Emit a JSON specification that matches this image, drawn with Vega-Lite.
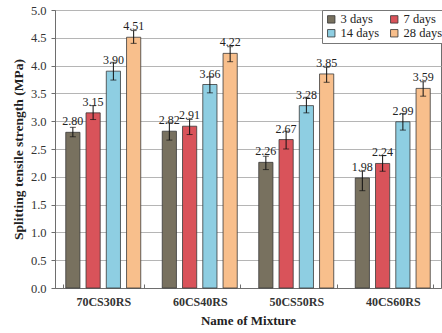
{
  "$schema": "https://vega.github.io/schema/vega-lite/v6.json",
  "autosize": "none",
  "width": 386,
  "height": 278,
  "padding": {"left": 55, "top": 10, "right": 1, "bottom": 45},
  "background": "white",
  "config": {
    "font": "Liberation Serif",
    "view": {"stroke": "#6e6e6e", "strokeWidth": 1},
    "axis": {"labelColor": "#333", "titleColor": "#222", "domainColor": "#6e6e6e", "tickColor": "#6e6e6e"},
    "axisY": {
      "grid": true,
      "gridColor": "#b5b5b5",
      "tickSize": 4,
      "labelPadding": 5,
      "labelFontSize": 12.5,
      "titleFontWeight": "bold",
      "titleFontSize": 13.5,
      "titlePadding": 5
    }
  },
  "data": {
    "values": [
      {"mixture": "70CS30RS", "age": "3 days", "strength": 2.80, "lo": 2.72, "hi": 2.89},
      {"mixture": "70CS30RS", "age": "7 days", "strength": 3.15, "lo": 3.03, "hi": 3.28},
      {"mixture": "70CS30RS", "age": "14 days", "strength": 3.90, "lo": 3.74, "hi": 4.06},
      {"mixture": "70CS30RS", "age": "28 days", "strength": 4.51, "lo": 4.40, "hi": 4.63},
      {"mixture": "60CS40RS", "age": "3 days", "strength": 2.82, "lo": 2.66, "hi": 2.97},
      {"mixture": "60CS40RS", "age": "7 days", "strength": 2.91, "lo": 2.76, "hi": 3.03},
      {"mixture": "60CS40RS", "age": "14 days", "strength": 3.66, "lo": 3.51, "hi": 3.80},
      {"mixture": "60CS40RS", "age": "28 days", "strength": 4.22, "lo": 4.07, "hi": 4.34},
      {"mixture": "50CS50RS", "age": "3 days", "strength": 2.26, "lo": 2.13, "hi": 2.37},
      {"mixture": "50CS50RS", "age": "7 days", "strength": 2.67, "lo": 2.50, "hi": 2.82},
      {"mixture": "50CS50RS", "age": "14 days", "strength": 3.28, "lo": 3.15, "hi": 3.43},
      {"mixture": "50CS50RS", "age": "28 days", "strength": 3.85, "lo": 3.70, "hi": 3.97},
      {"mixture": "40CS60RS", "age": "3 days", "strength": 1.98, "lo": 1.75, "hi": 2.10},
      {"mixture": "40CS60RS", "age": "7 days", "strength": 2.24, "lo": 2.10, "hi": 2.38},
      {"mixture": "40CS60RS", "age": "14 days", "strength": 2.99, "lo": 2.84, "hi": 3.14},
      {"mixture": "40CS60RS", "age": "28 days", "strength": 3.59, "lo": 3.45, "hi": 3.71}
    ]
  },
  "encoding": {
    "x": {
      "field": "mixture",
      "type": "nominal",
      "sort": ["70CS30RS", "60CS40RS", "50CS50RS", "40CS60RS"],
      "scale": {"paddingInner": 0.16, "paddingOuter": 0.08},
      "axis": {
        "title": "Name of Mixture",
        "labelAngle": 0,
        "tickBand": "extent",
        "tickSize": -4,
        "labelFontWeight": "bold",
        "labelFontSize": 12,
        "labelPadding": 12,
        "titleFontWeight": "bold",
        "titleFontSize": 13,
        "titlePadding": 7
      }
    },
    "xOffset": {
      "field": "age",
      "type": "nominal",
      "sort": ["3 days", "7 days", "14 days", "28 days"],
      "scale": {"paddingInner": 0.3, "paddingOuter": 0.15}
    }
  },
  "layer": [
    {
      "mark": {"type": "bar", "stroke": "#3a3a3a", "strokeWidth": 0.8},
      "encoding": {
        "y": {
          "field": "strength",
          "type": "quantitative",
          "scale": {"domain": [0, 5]},
          "axis": {"title": "Splitting tensile strength (MPa)", "values": [0, 0.5, 1, 1.5, 2, 2.5, 3, 3.5, 4, 4.5, 5], "tickCount": 11, "format": ".1f"}
        },
        "color": {
          "field": "age",
          "type": "nominal",
          "scale": {
            "domain": ["3 days", "7 days", "14 days", "28 days"],
            "range": ["#78715f", "#d9535a", "#8ecee2", "#f8bf8c"]
          },
          "legend": {
            "title": null,
            "orient": "none",
            "legendX": 267,
            "legendY": 0,
            "columns": 2,
            "direction": "horizontal",
            "symbolType": "square",
            "symbolSize": 55,
            "symbolStrokeColor": "#333",
            "symbolStrokeWidth": 0.8,
            "labelFontSize": 12.5,
            "labelColor": "#222",
            "labelOffset": 3,
            "columnPadding": 8,
            "rowPadding": 1,
            "padding": 3,
            "strokeColor": "#777",
            "fillColor": "white"
          }
        }
      }
    },
    {
      "mark": {"type": "rule", "color": "#111", "strokeWidth": 1},
      "encoding": {
        "y": {"field": "lo", "type": "quantitative", "axis": {"title": "Splitting tensile strength (MPa)", "values": [0, 0.5, 1, 1.5, 2, 2.5, 3, 3.5, 4, 4.5, 5], "tickCount": 11, "format": ".1f"}},
        "y2": {"field": "hi"}
      }
    },
    {
      "mark": {"type": "tick", "color": "#111", "size": 6, "thickness": 1},
      "encoding": {
        "y": {"field": "lo", "type": "quantitative", "axis": {"title": "Splitting tensile strength (MPa)", "values": [0, 0.5, 1, 1.5, 2, 2.5, 3, 3.5, 4, 4.5, 5], "tickCount": 11, "format": ".1f"}}
      }
    },
    {
      "mark": {"type": "tick", "color": "#111", "size": 6, "thickness": 1},
      "encoding": {
        "y": {"field": "hi", "type": "quantitative", "axis": {"title": "Splitting tensile strength (MPa)", "values": [0, 0.5, 1, 1.5, 2, 2.5, 3, 3.5, 4, 4.5, 5], "tickCount": 11, "format": ".1f"}}
      }
    },
    {
      "mark": {"type": "text", "dy": -11, "fontSize": 12, "color": "#222"},
      "encoding": {
        "y": {"field": "strength", "type": "quantitative", "axis": {"title": "Splitting tensile strength (MPa)", "values": [0, 0.5, 1, 1.5, 2, 2.5, 3, 3.5, 4, 4.5, 5], "tickCount": 11, "format": ".1f"}},
        "text": {"field": "strength", "type": "quantitative", "format": ".2f"}
      }
    }
  ]
}
